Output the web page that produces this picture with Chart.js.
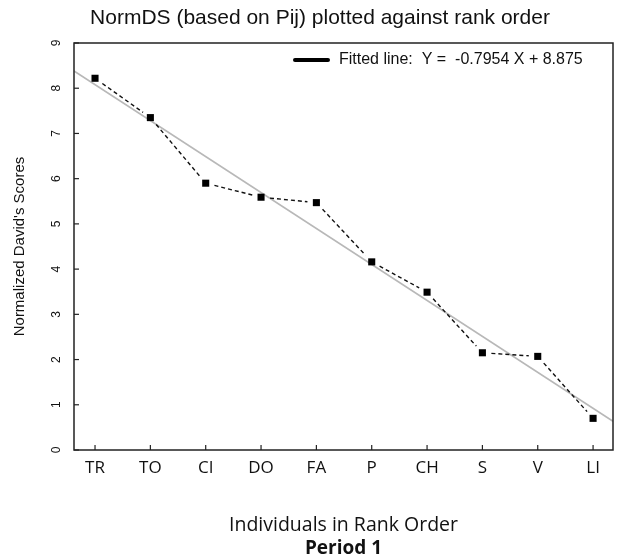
<!DOCTYPE html>
<html>
<head>
<meta charset="utf-8">
<script src="https://cdn.jsdelivr.net/npm/chart.js@4.4.1/dist/chart.umd.min.js"></script>
<style>
  html, body { margin: 0; padding: 0; background: #fff; }
  #wrap { width: 618px; height: 560px; }
</style>
</head>
<body>
<div id="wrap"><canvas id="rankChart" width="618" height="560"></canvas></div>
<script>
// individuals, in rank order
const individuals = ["TR", "TO", "CI", "DO", "FA", "P", "CH", "S", "V", "LI"];
const ranks = [1, 2, 3, 4, 5, 6, 7, 8, 9, 10];
// normalized David's scores
const normDS = [8.22, 7.35, 5.90, 5.59, 5.47, 4.16, 3.49, 2.15, 2.07, 0.70];
// fitted line Y = slope * X + intercept
const slope = -0.7954;
const intercept = 8.875;
const yTicks = [0, 1, 2, 3, 4, 5, 6, 7, 8, 9];

const X_MIN = 0.62, X_MAX = 10.36;

const points = ranks.map((r, i) => ({ x: r, y: normDS[i] }));
const fitLine = [X_MIN, X_MAX].map(x => ({ x: x, y: slope * x + intercept }));

const SANS = "'Liberation Sans', Arial, sans-serif";
const HUMAN = "'Open Sans', Lato, sans-serif";
const TITLE = "NormDS (based on Pij) plotted against rank order";

// dashed connectors that stop short of each point (like R type "b")
const connectPlugin = {
  id: "connect",
  beforeDatasetDraw(chart, args) {
    if (args.index !== 1) return;
    const { ctx } = chart;
    const pts = args.meta.data;
    const gap = 9;
    ctx.save();
    ctx.strokeStyle = "#111";
    ctx.lineWidth = 1.4;
    ctx.setLineDash([4, 3]);
    for (let i = 0; i < pts.length - 1; i++) {
      const p0 = pts[i], p1 = pts[i + 1];
      const dx = p1.x - p0.x, dy = p1.y - p0.y;
      const len = Math.hypot(dx, dy);
      if (len <= 2 * gap) continue;
      const ux = dx / len, uy = dy / len;
      ctx.beginPath();
      ctx.moveTo(p0.x + ux * gap, p0.y + uy * gap);
      ctx.lineTo(p1.x - ux * gap, p1.y - uy * gap);
      ctx.stroke();
    }
    ctx.restore();
  }
};

// title, box around the plot, inward ticks and the legend
const framePlugin = {
  id: "frame",
  afterDatasetsDraw(chart) {
    const { ctx, chartArea, scales } = chart;
    const a = chartArea;
    ctx.save();
    ctx.strokeStyle = "#222";
    ctx.lineWidth = 1.5;
    ctx.strokeRect(a.left, a.top, a.right - a.left, a.bottom - a.top);

    ctx.lineWidth = 1.2;
    ranks.forEach(r => {
      const x = scales.x.getPixelForValue(r);
      ctx.beginPath();
      ctx.moveTo(x, a.bottom);
      ctx.lineTo(x, a.bottom - 5);
      ctx.stroke();
    });
    yTicks.forEach(v => {
      const y = scales.y.getPixelForValue(v);
      ctx.beginPath();
      ctx.moveTo(a.left, y);
      ctx.lineTo(a.left + 5, y);
      ctx.stroke();
    });

    // legend
    ctx.strokeStyle = "#000";
    ctx.lineWidth = 4;
    ctx.lineCap = "round";
    ctx.beginPath();
    ctx.moveTo(a.left + 221, a.top + 17);
    ctx.lineTo(a.left + 254, a.top + 17);
    ctx.stroke();
    ctx.fillStyle = "#111";
    ctx.font = "16px " + SANS;
    ctx.textBaseline = "middle";
    ctx.textAlign = "left";
    ctx.fillText("Fitted line:  Y =  " + slope + " X + " + intercept, a.left + 265, a.top + 17);

    // main title
    ctx.font = "21px " + SANS;
    ctx.textAlign = "center";
    ctx.fillText(TITLE, 320, 18);
    ctx.restore();
  }
};

new Chart(document.getElementById("rankChart"), {
  type: "scatter",
  data: {
    datasets: [
      {
        label: "Fitted line",
        data: fitLine,
        showLine: true,
        borderColor: "#b8b8b8",
        borderWidth: 1.6,
        pointRadius: 0,
        order: 2
      },
      {
        label: "NormDS",
        data: points,
        showLine: false,
        pointStyle: "rect",
        pointRadius: 5,
        pointBackgroundColor: "#000",
        pointBorderWidth: 0,
        order: 1
      }
    ]
  },
  options: {
    responsive: false,
    animation: false,
    layout: { padding: { left: 0, right: 5, top: 43, bottom: 0 } },
    plugins: {
      legend: { display: false },
      tooltip: { enabled: false },
      subtitle: {
        display: true,
        position: "bottom",
        fullSize: false,
        text: "Period 1",
        color: "#111",
        font: { family: HUMAN, size: 19, weight: "bold" },
        padding: { top: 0, bottom: 0 }
      }
    },
    scales: {
      x: {
        type: "linear",
        min: X_MIN,
        max: X_MAX,
        afterBuildTicks: s => { s.ticks = ranks.map(v => ({ value: v })); },
        afterFit: s => { s.height = 87.2; },
        grid: { display: false, drawTicks: false },
        border: { display: false },
        ticks: {
          padding: 8,
          color: "#111",
          font: { family: HUMAN, size: 17 },
          callback: v => individuals[v - 1] || ""
        },
        title: {
          display: true,
          text: "Individuals in Rank Order",
          color: "#111",
          font: { family: HUMAN, size: 19.5 },
          padding: { top: 0, bottom: 0 }
        }
      },
      y: {
        min: 0,
        max: 9,
        afterBuildTicks: s => { s.ticks = yTicks.map(v => ({ value: v })); },
        afterFit: s => { s.width = 74; },
        grid: { display: false, drawTicks: false },
        border: { display: false },
        ticks: {
          padding: 14,
          minRotation: 90,
          maxRotation: 90,
          crossAlign: "center",
          color: "#111",
          font: { family: SANS, size: 12 }
        },
        title: {
          display: true,
          text: "Normalized David's Scores",
          color: "#111",
          font: { family: SANS, size: 15 },
          padding: { top: 11, bottom: 0 }
        }
      }
    }
  },
  plugins: [connectPlugin, framePlugin]
});
</script>
</body>
</html>
